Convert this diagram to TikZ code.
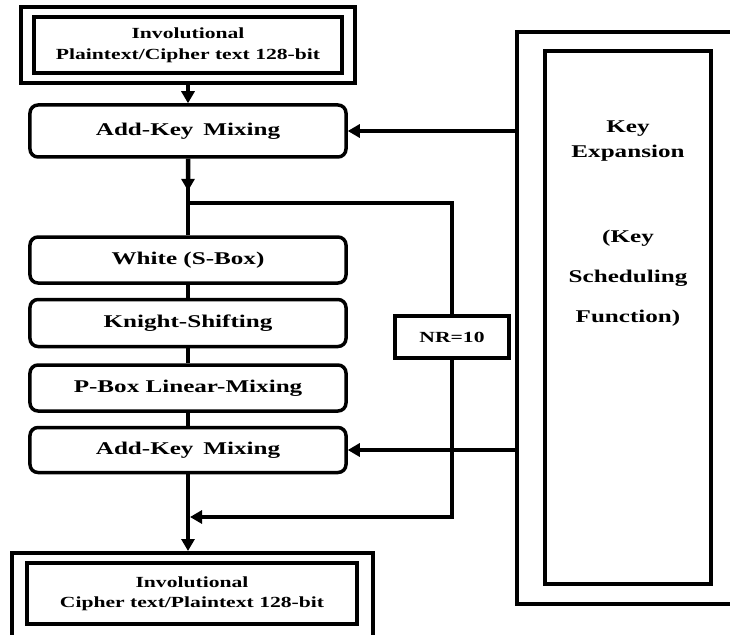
\documentclass[tikz,border=0pt]{standalone}
\usepackage{fontspec}
\setmainfont{Liberation Serif}[FakeStretch=1.4]
\usetikzlibrary{positioning, fit, calc, arrows.meta}
\tikzset{block/.style={draw, line width=3.5bp, rounded corners=8bp, minimum width=316bp, minimum height=46bp, align=center, font=\fontsize{18}{22}\selectfont\bfseries},
frame/.style={draw, line width=4bp, align=center, inner sep=0pt, font=\fontsize{15.5}{21}\selectfont\bfseries},
line/.style={line width=4.5bp, -{Triangle[length=12bp,width=13bp]}},
wire/.style={line width=4.5bp}
}
\begin{document}
\begin{tikzpicture}[x=1bp, y=-1bp]
\clip (0,0) rectangle (730,635);
% plaintext in / cipher text out
\node[frame, minimum width=307bp, minimum height=56bp] (in) at (188,45) {Involutional\\Plaintext/Cipher text 128-bit};
\node[frame, minimum width=334bp, minimum height=76bp] (inbox) at (188,45) {};
\node[frame, minimum width=330bp, minimum height=61bp, font=\fontsize{15.5}{20}\selectfont\bfseries] (out) at (192,593.5) {Involutional\\Cipher text/Plaintext 128-bit};
\node[frame, minimum width=361bp, minimum height=94bp] (outbox) at (192.5,600) {};
% round function
\node[block, minimum height=52bp] (ak1) at (188,131) {Add-Key\hspace{0.2em} Mixing};
\node[block] (sbox) at (188,260) {White (S-Box)};
\node[block, minimum height=47bp, below=13bp of sbox] (knight) {Knight-Shifting};
\node[block, below=15bp of knight] (pbox) {P-Box Linear-Mixing};
\node[block, minimum height=45bp, below=13bp of pbox] (ak2) {Add-Key\hspace{0.2em} Mixing};
\node[frame, minimum width=114bp, minimum height=42bp] (nr) at (452,337) {NR=10};
% key expansion
\node[frame, minimum width=226bp, minimum height=572bp] (kbox) at (630,318) {};
\node[frame, minimum width=166bp, minimum height=533bp] (kin) at (628,317.5) {};
\node[align=center, font=\fontsize{18}{25}\selectfont\bfseries] (kname) at (628,141) {Key\\Expansion};
\node[align=center, font=\fontsize{18}{40}\selectfont\bfseries] (ksched) at (628,278) {(Key\\Scheduling\\Function)};
\coordinate (split) at (188,203);
\coordinate (merge) at (188,517);
\draw[line] (inbox.south) -- (ak1.north);
\draw[wire] (ak1.south) -- (sbox.north);
\draw[line] (ak1.south) -- ($(ak1.south)!0.42!(sbox.north)$);
\draw[wire] (sbox) -- (knight);
\draw[wire] (knight) -- (pbox);
\draw[wire] (pbox) -- (ak2);
\draw[wire] (ak2.south) -- (merge);
\draw[line] (merge) -- (outbox.north -| merge);
\draw[wire] (split) -| (nr.north);
\draw[line, shorten >=2bp] (nr.south) |- (merge);
\draw[line] (kbox.west |- ak1.east) -- (ak1.east);
\draw[line] (kbox.west |- ak2.east) -- (ak2.east);
\end{tikzpicture}
\end{document}
